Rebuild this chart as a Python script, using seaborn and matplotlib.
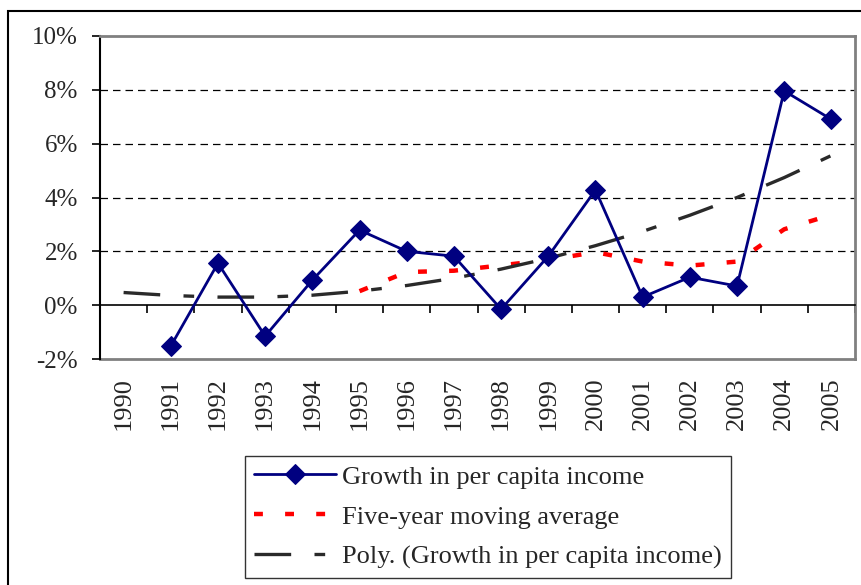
import numpy as np
import pandas as pd
import seaborn as sns
import matplotlib.pyplot as plt
from matplotlib.ticker import FuncFormatter

# dados (em %)
years = list(range(1990, 2006))
growth = [np.nan, -1.52, 1.56, -1.15, 0.93, 2.79, 2.00, 1.82, -0.15, 1.82,
          4.28, 0.30, 1.04, 0.71, 7.96, 6.90]
moving_avg = [np.nan, np.nan, np.nan, np.nan, np.nan, 0.52, 1.23, 1.28, 1.48,
              1.68, 1.97, 1.62, 1.47, 1.62, 2.82, 3.36]
poly_trend = [0.47, 0.36, 0.30, 0.30, 0.37, 0.52, 0.73, 1.00, 1.34, 1.74,
              2.21, 2.74, 3.34, 4.00, 4.74, 5.56]
y_ticks = [-2, 0, 2, 4, 6, 8, 10]

df = pd.DataFrame({'ano': years, 'crescimento': growth,
                   'media': moving_avg, 'tendencia': poly_trend})

sns.set_style('white')
plt.rcParams['font.family'] = ['Liberation Serif', 'DejaVu Serif']

fig = plt.figure(figsize=(8.62, 5.85), dpi=100)
ax = fig.add_axes([100 / 862, 1 - 359 / 585, 755 / 862, 323 / 585])

# grade tracejada
for v in [2, 4, 6, 8]:
    ax.axhline(v, color='black', lw=0.9, ls=(0, (6, 4)), zorder=1)

sns.lineplot(data=df, x='ano', y='crescimento', ax=ax, color='#000080', lw=2,
             marker='D', markersize=10, markeredgecolor='#000080',
             label='Growth in per capita income', zorder=5)
sns.lineplot(data=df, x='ano', y='media', ax=ax, color='#ff0000', lw=3.2,
             dashes=False, label='Five-year moving average', zorder=3)
sns.lineplot(data=df, x='ano', y='tendencia', ax=ax, color='#2a2a2a', lw=2.4,
             dashes=False, label='Poly. (Growth in per capita income)', zorder=4)
ax.lines[-2].set_dashes((2, 5))
ax.lines[-1].set_dashes((11, 7, 3.2, 7))

ax.set_xlim(1989.5, 2005.5)
ax.set_ylim(-2, 10)
ax.set_yticks(y_ticks)
ax.yaxis.set_major_formatter(FuncFormatter(lambda v, p: f'{v:.0f}%'))
ax.tick_params(axis='y', direction='out', length=6, width=1.2, color='black',
               labelsize=18, pad=10, left=True)
ax.set_xlabel('')
ax.set_ylabel('')

# eixo x no zero, com marcas entre as categorias
ax.spines['bottom'].set_position(('data', 0))
ax.spines['bottom'].set_color('black')
ax.spines['bottom'].set_linewidth(1.2)
ax.set_xticks(np.arange(1989.5, 2006, 1))
ax.set_xticklabels([])
ax.tick_params(axis='x', direction='out', length=6, width=1.2, color='black',
               bottom=True)

ax.spines['left'].set_color('black')
ax.spines['left'].set_linewidth(1.5)
for s in ['top', 'right']:
    ax.spines[s].set_visible(True)
    ax.spines[s].set_color('#808080')
    ax.spines[s].set_linewidth(2)

# rotulos dos anos embaixo da area do grafico
sec = ax.secondary_xaxis(0)
sec.set_xticks(years)
sec.set_xticklabels([str(y) for y in years], rotation=90, fontsize=19)
sec.tick_params(length=0, pad=13)
sec.spines['bottom'].set_color('#808080')
sec.spines['bottom'].set_linewidth(2)

leg = ax.legend(loc='center', bbox_to_anchor=(488 / 862, 1 - 517 / 585),
                bbox_transform=fig.transFigure, fontsize=19, frameon=True,
                fancybox=False, edgecolor='black', handlelength=3.1,
                handletextpad=0.25, labelspacing=0.62, borderpad=0.35,
                borderaxespad=0)
leg.get_frame().set_linewidth(1)

# moldura externa do grafico
fig.patches.append(plt.Rectangle((8 / 862, -0.2), 1.2, 1.2 - 11 / 585,
                                 transform=fig.transFigure, fill=False,
                                 edgecolor='black', lw=1.5))

fig.savefig('out.png', dpi=100)
